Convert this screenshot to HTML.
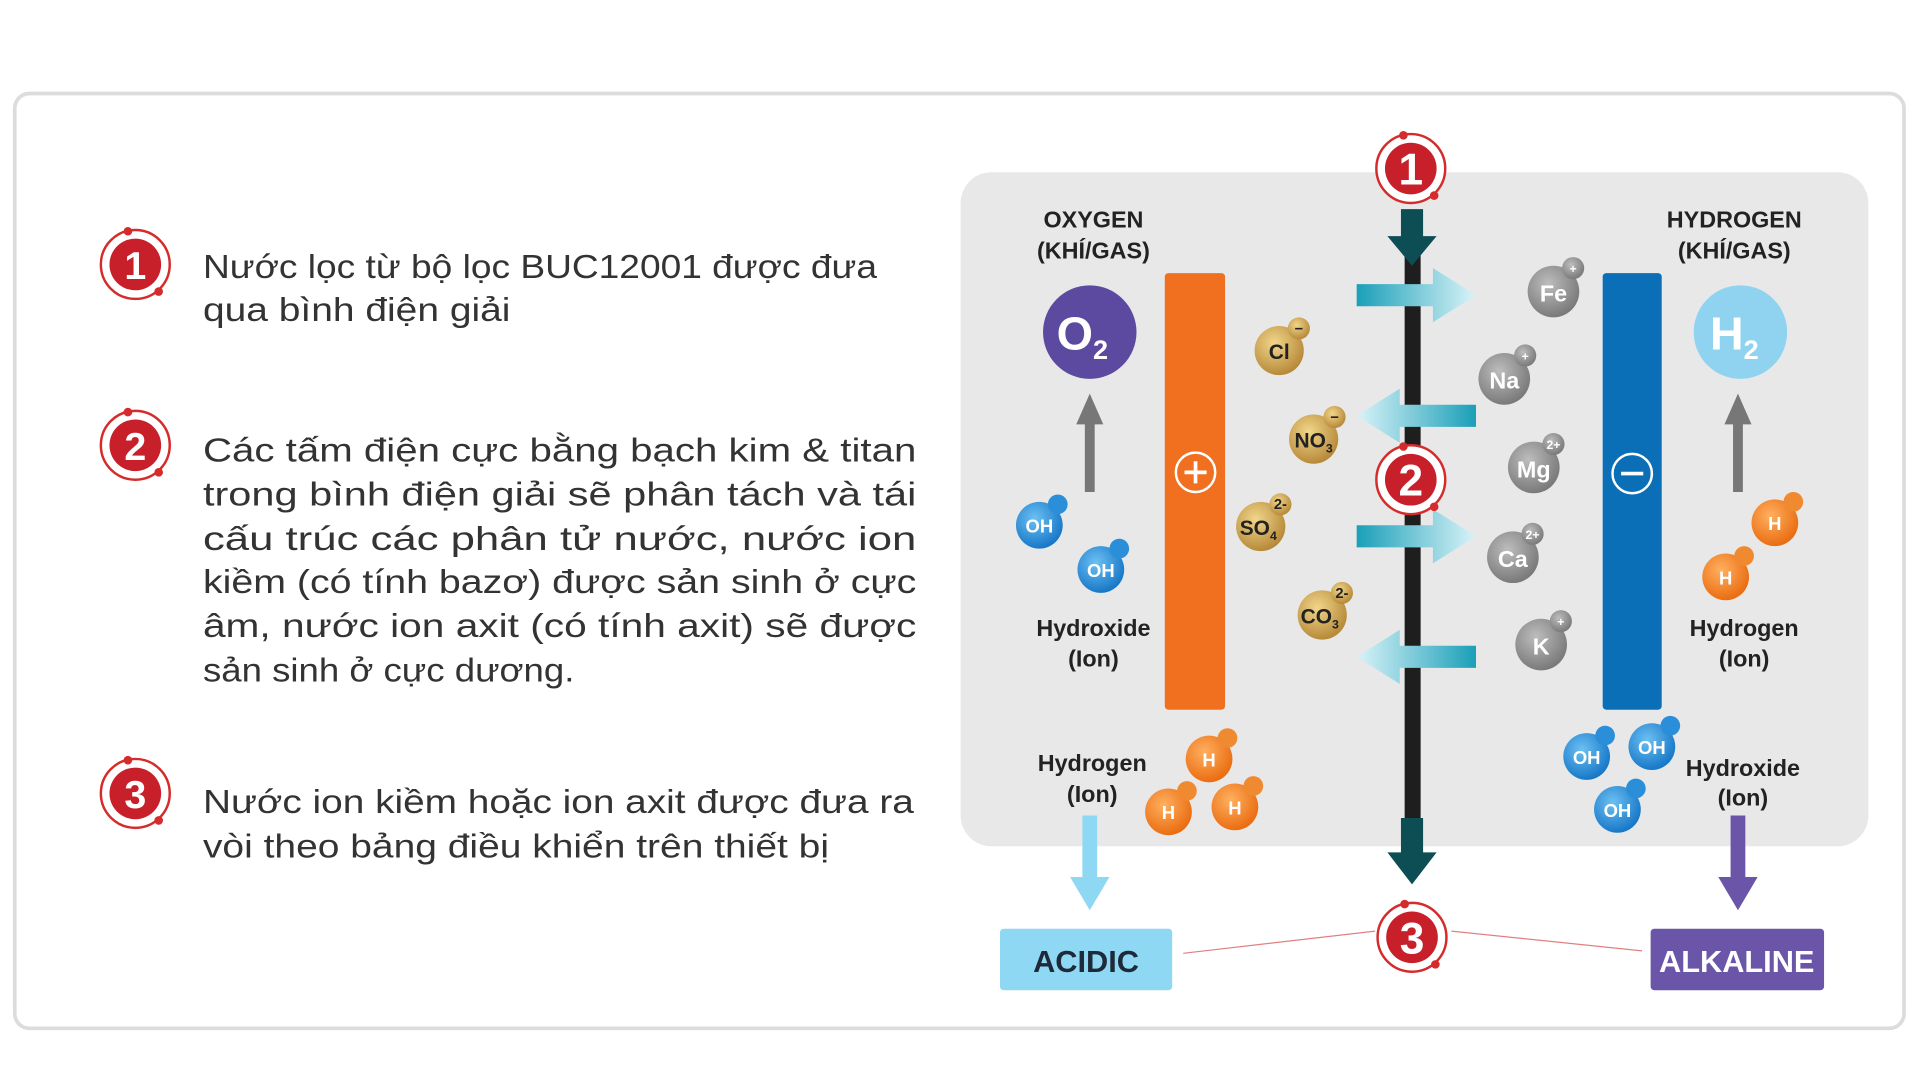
<!DOCTYPE html>
<html><head><meta charset="utf-8"><style>
html,body{margin:0;padding:0;background:#fff;width:1920px;height:1080px;overflow:hidden}
svg{display:block}
text{font-family:"Liberation Sans",sans-serif}
</style></head><body>
<svg width="1920" height="1080" viewBox="0 0 1561 878" preserveAspectRatio="none" xmlns="http://www.w3.org/2000/svg">
<defs>
<radialGradient id="gold" cx="40%" cy="35%" r="65%"><stop offset="0" stop-color="#f2d68a"/><stop offset="1" stop-color="#b78a3a"/></radialGradient>
<radialGradient id="gray" cx="40%" cy="35%" r="65%"><stop offset="0" stop-color="#bdbdbd"/><stop offset="1" stop-color="#7a7a7a"/></radialGradient>
<radialGradient id="blue" cx="40%" cy="35%" r="65%"><stop offset="0" stop-color="#6cc0f2"/><stop offset="1" stop-color="#1878c8"/></radialGradient>
<radialGradient id="org" cx="40%" cy="35%" r="65%"><stop offset="0" stop-color="#ffb060"/><stop offset="1" stop-color="#ea6d12"/></radialGradient>
<linearGradient id="cyR" x1="0" x2="1"><stop offset="0" stop-color="#1a9fb8"/><stop offset="1" stop-color="#d9f3f8"/></linearGradient>
<linearGradient id="cyL" x1="1" x2="0"><stop offset="0" stop-color="#1a9fb8"/><stop offset="1" stop-color="#d9f3f8"/></linearGradient>
<g id="num"><circle r="28" fill="#fff" stroke="#d52b2b" stroke-width="2"/><circle r="21" fill="#c8202a"/><circle cx="-6" cy="-27" r="3.5" fill="#d52b2b"/><circle cx="19" cy="22" r="3.5" fill="#d52b2b"/></g>
</defs>
<rect x="12" y="76" width="1536" height="760" rx="12" fill="#fff" stroke="#dcdcdc" stroke-width="3"/>
<use href="#num" x="110" y="215"/><text x="110" y="227" font-size="32" font-weight="bold" fill="#fff" text-anchor="middle">1</text>
<use href="#num" x="110" y="362"/><text x="110" y="374" font-size="32" font-weight="bold" fill="#fff" text-anchor="middle">2</text>
<use href="#num" x="110" y="645"/><text x="110" y="657" font-size="32" font-weight="bold" fill="#fff" text-anchor="middle">3</text>
<g font-size="27" fill="#333">
<text x="165" y="226" textLength="548" lengthAdjust="spacingAndGlyphs">Nước lọc từ bộ lọc BUC12001 được đưa</text>
<text x="165" y="261" textLength="250" lengthAdjust="spacingAndGlyphs">qua bình điện giải</text>
<text x="165" y="375" textLength="580" lengthAdjust="spacingAndGlyphs">Các tấm điện cực bằng bạch kim &amp; titan</text>
<text x="165" y="411" textLength="580" lengthAdjust="spacingAndGlyphs">trong bình điện giải sẽ phân tách và tái</text>
<text x="165" y="447" textLength="580" lengthAdjust="spacingAndGlyphs">cấu trúc các phân tử nước, nước ion</text>
<text x="165" y="482" textLength="580" lengthAdjust="spacingAndGlyphs">kiềm (có tính bazơ) được sản sinh ở cực</text>
<text x="165" y="518" textLength="580" lengthAdjust="spacingAndGlyphs">âm, nước ion axit (có tính axit) sẽ được</text>
<text x="165" y="554" textLength="302" lengthAdjust="spacingAndGlyphs">sản sinh ở cực dương.</text>
<text x="165" y="661" textLength="578" lengthAdjust="spacingAndGlyphs">Nước ion kiềm hoặc ion axit được đưa ra</text>
<text x="165" y="697" textLength="509" lengthAdjust="spacingAndGlyphs">vòi theo bảng điều khiển trên thiết bị</text>
</g>
<rect x="781" y="140" width="738" height="548" rx="25" fill="#e8e8e8"/>
<g font-size="19" font-weight="bold" fill="#222" text-anchor="middle">
<text x="889" y="185">OXYGEN</text><text x="889" y="210">(KHÍ/GAS)</text>
<text x="1410" y="185">HYDROGEN</text><text x="1410" y="210">(KHÍ/GAS)</text>
<text x="889" y="517">Hydroxide</text><text x="889" y="542">(Ion)</text>
<text x="1418" y="517">Hydrogen</text><text x="1418" y="542">(Ion)</text>
<text x="888" y="627">Hydrogen</text><text x="888" y="652">(Ion)</text>
<text x="1417" y="631">Hydroxide</text><text x="1417" y="655">(Ion)</text>
</g>
<circle cx="886" cy="270" r="38" fill="#5b4a9f"/><text x="880" y="284" font-size="38" font-weight="bold" fill="#fff" text-anchor="middle">O<tspan font-size="22" dy="8">2</tspan></text>
<circle cx="1415" cy="270" r="38" fill="#8fd3f1"/><text x="1410" y="284" font-size="38" font-weight="bold" fill="#fff" text-anchor="middle">H<tspan font-size="22" dy="8">2</tspan></text>
<path d="M882 400V345H875L886 320L897 345H890V400Z" fill="#777"/>
<path d="M1409 400V345H1402L1413 320L1424 345H1417V400Z" fill="#777"/>
<rect x="947" y="222" width="49" height="355" rx="3" fill="#f07020"/>
<circle cx="972" cy="384" r="16" fill="none" stroke="#fff" stroke-width="2"/><path d="M972 375v18M963 384h18" stroke="#fff" stroke-width="3"/>
<rect x="1303" y="222" width="48" height="355" rx="3" fill="#0b6fb8"/>
<circle cx="1327" cy="385" r="16" fill="none" stroke="#fff" stroke-width="2"/><path d="M1318 385h18" stroke="#fff" stroke-width="3"/>
<rect x="1142" y="205" width="13" height="465" fill="#1e1e1e"/>
<path d="M1139 170h18v22h11l-20 24l-20-24h11z" fill="#0d4e55"/>
<path d="M1139 665h18v28h11l-20 26l-20-26h11z" fill="#0d4e55"/>
<path d="M1103 231h62v-13l35 22l-35 22v-13h-62z" fill="url(#cyR)"/>
<path d="M1103 427h62v-13l35 22l-35 22v-13h-62z" fill="url(#cyR)"/>
<path d="M1200 329h-62v-13l-35 22l35 22v-13h62z" fill="url(#cyL)"/>
<path d="M1200 525h-62v-13l-35 22l35 22v-13h62z" fill="url(#cyL)"/>
<use href="#num" x="1147" y="137"/><text x="1147" y="150" font-size="36" font-weight="bold" fill="#fff" text-anchor="middle">1</text>
<use href="#num" x="1147" y="390"/><text x="1147" y="403" font-size="36" font-weight="bold" fill="#fff" text-anchor="middle">2</text>
<use href="#num" x="1148" y="762"/><text x="1148" y="775" font-size="36" font-weight="bold" fill="#fff" text-anchor="middle">3</text>
<g font-weight="bold" text-anchor="middle">
<g fill="#222" font-size="17">
<circle cx="1040" cy="285" r="20" fill="url(#gold)"/><circle cx="1056" cy="267" r="9" fill="url(#gold)"/><text x="1040" y="292">Cl</text>
<circle cx="1068" cy="357" r="20" fill="url(#gold)"/><circle cx="1085" cy="339" r="9" fill="url(#gold)"/><text x="1068" y="364">NO<tspan font-size="10" dy="4">3</tspan></text>
<circle cx="1025" cy="428" r="20" fill="url(#gold)"/><circle cx="1041" cy="410" r="9" fill="url(#gold)"/><text x="1023" y="435">SO<tspan font-size="10" dy="4">4</tspan></text>
<circle cx="1075" cy="500" r="20" fill="url(#gold)"/><circle cx="1091" cy="482" r="9" fill="url(#gold)"/><text x="1073" y="507">CO<tspan font-size="10" dy="4">3</tspan></text>
</g>
<g fill="#fff" font-size="19">
<circle cx="1263" cy="237" r="21" fill="url(#gray)"/><circle cx="1279" cy="218" r="9" fill="url(#gray)"/><text x="1263" y="245">Fe</text>
<circle cx="1223" cy="308" r="21" fill="url(#gray)"/><circle cx="1240" cy="289" r="9" fill="url(#gray)"/><text x="1223" y="316">Na</text>
<circle cx="1247" cy="380" r="21" fill="url(#gray)"/><circle cx="1263" cy="361" r="9" fill="url(#gray)"/><text x="1247" y="388">Mg</text>
<circle cx="1230" cy="453" r="21" fill="url(#gray)"/><circle cx="1246" cy="434" r="9" fill="url(#gray)"/><text x="1230" y="461">Ca</text>
<circle cx="1253" cy="524" r="21" fill="url(#gray)"/><circle cx="1269" cy="505" r="9" fill="url(#gray)"/><text x="1253" y="532">K</text>
</g>
<g fill="#fff" font-size="10"><text x="1279" y="222">+</text><text x="1240" y="293">+</text><text x="1263" y="365">2+</text><text x="1246" y="438">2+</text><text x="1269" y="509">+</text></g>
<g fill="#222" font-size="12"><text x="1056" y="271">−</text><text x="1085" y="343">−</text><text x="1041" y="414">2-</text><text x="1091" y="486">2-</text></g>
<g fill="#fff" font-size="15">
<circle cx="845" cy="427" r="19" fill="url(#blue)"/><circle cx="860" cy="410" r="8" fill="#2a8fd8"/><text x="845" y="433">OH</text>
<circle cx="895" cy="463" r="19" fill="url(#blue)"/><circle cx="910" cy="446" r="8" fill="#2a8fd8"/><text x="895" y="469">OH</text>
<circle cx="1290" cy="615" r="19" fill="url(#blue)"/><circle cx="1305" cy="598" r="8" fill="#2a8fd8"/><text x="1290" y="621">OH</text>
<circle cx="1343" cy="607" r="19" fill="url(#blue)"/><circle cx="1358" cy="590" r="8" fill="#2a8fd8"/><text x="1343" y="613">OH</text>
<circle cx="1315" cy="658" r="19" fill="url(#blue)"/><circle cx="1330" cy="641" r="8" fill="#2a8fd8"/><text x="1315" y="664">OH</text>
<circle cx="1443" cy="425" r="19" fill="url(#org)"/><circle cx="1458" cy="408" r="8" fill="#f08a30"/><text x="1443" y="431">H</text>
<circle cx="1403" cy="469" r="19" fill="url(#org)"/><circle cx="1418" cy="452" r="8" fill="#f08a30"/><text x="1403" y="475">H</text>
<circle cx="983" cy="617" r="19" fill="url(#org)"/><circle cx="998" cy="600" r="8" fill="#f08a30"/><text x="983" y="623">H</text>
<circle cx="950" cy="660" r="19" fill="url(#org)"/><circle cx="965" cy="643" r="8" fill="#f08a30"/><text x="950" y="666">H</text>
<circle cx="1004" cy="656" r="19" fill="url(#org)"/><circle cx="1019" cy="639" r="8" fill="#f08a30"/><text x="1004" y="662">H</text>
</g>
</g>
<path d="M880 663h12v50h10l-16 27l-16-27h10z" fill="#8fd8f4"/>
<path d="M1407 663h12v50h10l-16 27l-16-27h10z" fill="#6a55a8"/>
<line x1="962" y1="775" x2="1118" y2="757" stroke="#e08080" stroke-width="1"/>
<line x1="1180" y1="757" x2="1335" y2="773" stroke="#e08080" stroke-width="1"/>
<rect x="813" y="755" width="140" height="50" rx="3" fill="#8fd8f4"/>
<text x="883" y="790" font-size="25" font-weight="bold" fill="#1e2a3a" text-anchor="middle">ACIDIC</text>
<rect x="1342" y="755" width="141" height="50" rx="3" fill="#6a55a8"/>
<text x="1412" y="790" font-size="25" font-weight="bold" fill="#fff" text-anchor="middle">ALKALINE</text>
</svg>
</body></html>
